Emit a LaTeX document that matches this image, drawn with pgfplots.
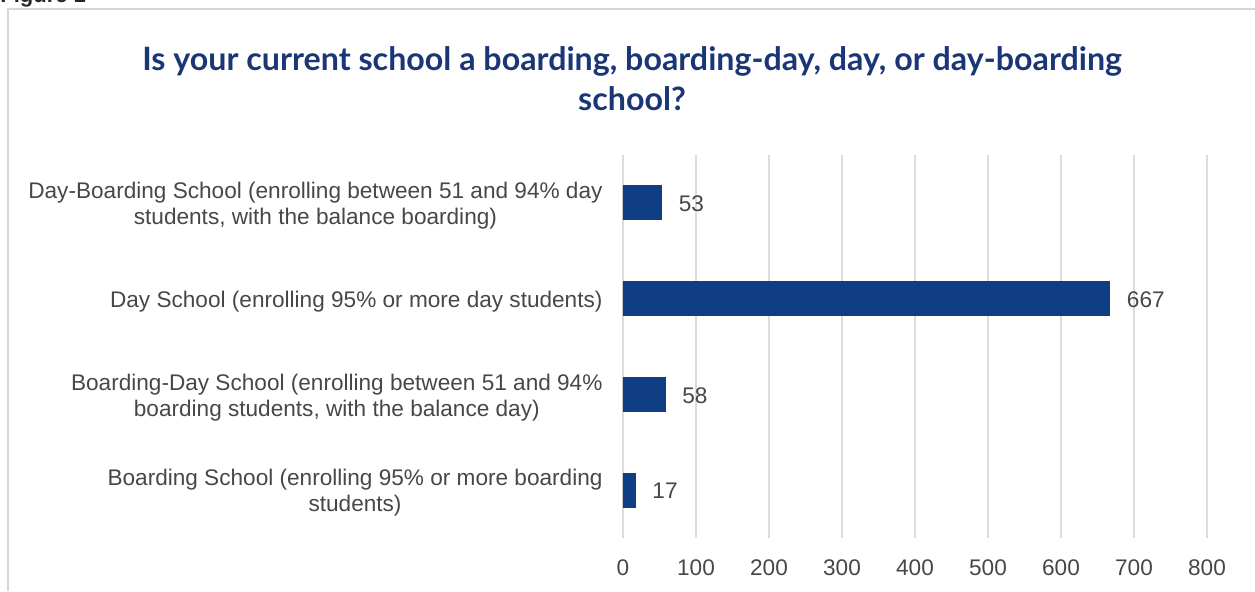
\documentclass[border=0pt]{standalone}
\usepackage{pgfplots}
\pgfplotsset{compat=1.18}
\usepackage{fontspec}
\setmainfont{Liberation Sans}
\newfontfamily\titlefont{Lato}
\definecolor{barblue}{HTML}{0F3E84}
\definecolor{titleblue}{HTML}{1B3677}
\definecolor{labelgray}{HTML}{474747}
\definecolor{gridgray}{HTML}{DCDCDC}
\definecolor{framegray}{HTML}{D6D6D6}

\begin{document}
\begin{tikzpicture}
  % page is 1255 x 591 px, 1 px = 0.5 pt
  \path[use as bounding box] (0,0) rectangle (627.5pt,295.5pt);
  \draw[framegray, line width=0.8pt] (4pt,0) -- (4pt,291pt) -- (627.5pt,291pt);
  \node[anchor=base west, inner sep=0, font=\bfseries\fontsize{11}{13}\selectfont, text=black!85]
    at (0pt,294.3pt) {Figure 1};
  \node[anchor=base, inner sep=0, text=titleblue, font=\titlefont\bfseries\fontsize{16.1}{18}\selectfont]
    at (316pt,260.5pt) {Is your current school a boarding, boarding-day, day, or day-boarding};
  \node[anchor=base, inner sep=0, text=titleblue, font=\titlefont\bfseries\fontsize{16.1}{18}\selectfont]
    at (316pt,240.5pt) {school?};

  \begin{axis}[
      at={(311.5pt,26.5pt)}, anchor=south west,
      scale only axis, width=292pt, height=191.5pt,
      xbar, bar width=17pt,
      xmin=0, xmax=800, ymin=-0.5, ymax=3.5,
      enlargelimits=false,
      axis line style={draw=none},
      major tick length=0pt,
      xtick={0,100,...,800},
      xmajorgrids, grid style={gridgray, line width=0.8pt},
      ytick={0,1,2,3},
      yticklabels={
        {Boarding School (enrolling 95\% or more boarding\\students)},
        {Boarding-Day School (enrolling between 51 and 94\%\\boarding students, with the balance day)},
        {Day School (enrolling 95\% or more day students)},
        {Day-Boarding School (enrolling between 51 and 94\% day\\students, with the balance boarding)}},
      yticklabel style={align=center, anchor=east, xshift=-6.7pt, yshift=-1.5pt, text=labelgray,
        font=\fontsize{11.3}{13}\selectfont},
      xticklabel style={yshift=-7.5pt, text=labelgray, font=\fontsize{11.3}{13}\selectfont},
      /pgf/number format/assume math mode=true,
      nodes near coords,
      every node near coord/.append style={anchor=west, xshift=5pt, yshift=-0.5pt, text=labelgray,
        font=\fontsize{11.3}{13}\selectfont},
      clip=false]
    \addplot[draw=barblue, fill=barblue] coordinates {(17,0) (58,1) (667,2) (53,3)};
  \end{axis}
\end{tikzpicture}
\end{document}
